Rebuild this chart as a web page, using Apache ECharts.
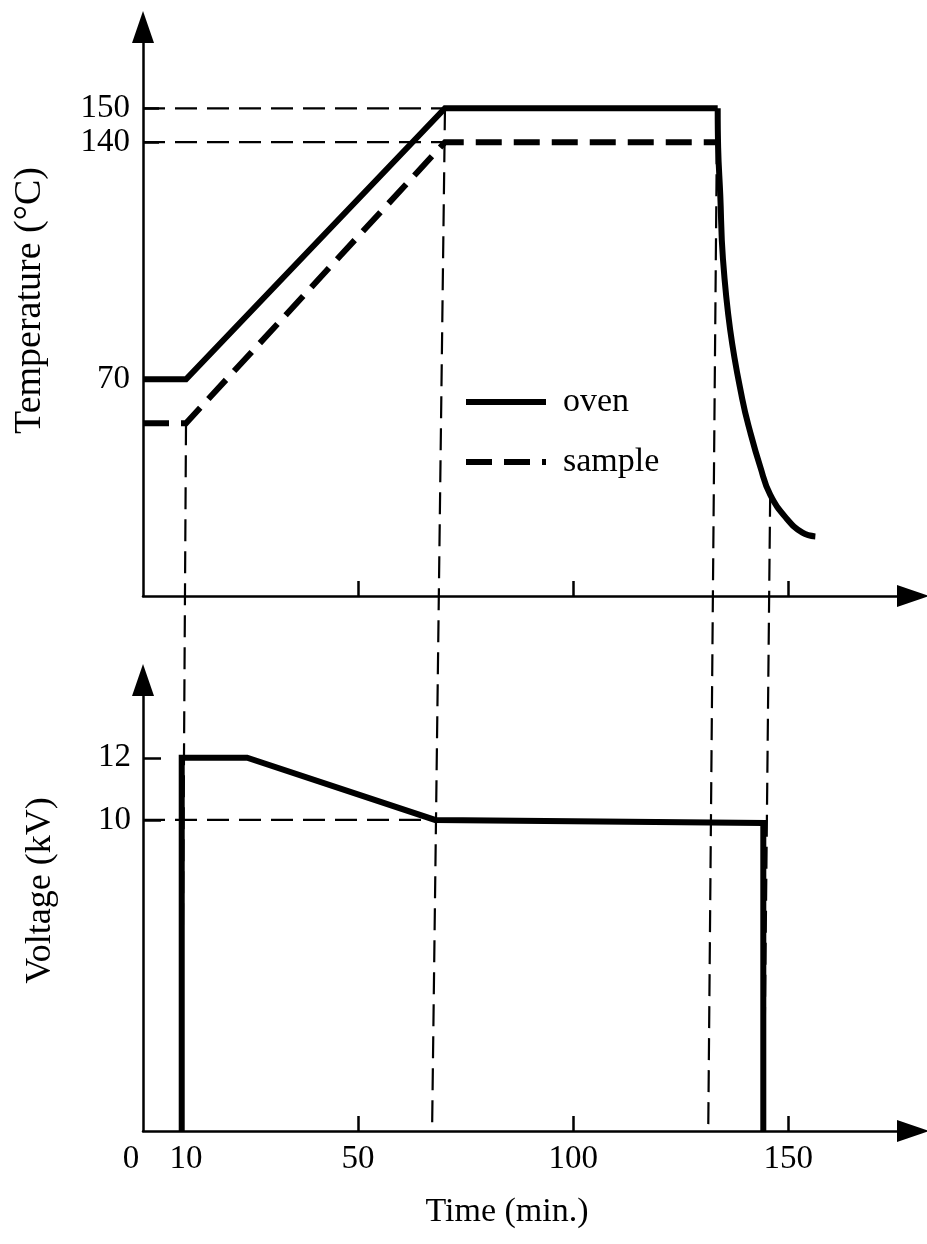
<!DOCTYPE html>
<html>
<head>
<meta charset="utf-8">
<script src="https://cdn.jsdelivr.net/npm/echarts@6/dist/echarts.min.js"></script>
<style>
  html, body { margin: 0; padding: 0; background: #fff; }
  #chart { width: 927px; height: 1244px; }
</style>
</head>
<body>
<div id="chart"></div>
<script>
const FONT = '"Liberation Serif", "Times New Roman", serif';

// Time axis (min.)
const timeLabels = [0, 10, 50, 100, 150];
const timeTicks = [50, 100, 150];
// Temperature axis (°C)
const tempTicks = [70, 140, 150];
// Voltage axis (kV)
const voltTicks = [10, 12];

// Oven temperature [min, °C]: heating ramp and plateau
const ovenHeating = [[0, 70], [10, 70], [70.2, 150], [133.6, 150]];
// Oven temperature after switch-off
const ovenCooling = [[133.6, 150], [133.7, 138.5], [134.2, 124.3], [134.8, 105.9], [136.5, 84.6],
  [139.3, 64.2], [141.2, 54.2], [143.5, 44.1], [145.8, 35.9], [149.6, 28.9], [153.3, 24.7], [156.3, 23.6]];
// Sample temperature [min, °C]
const sampleTemp = [[0, 57], [10, 57], [70.2, 140], [133.6, 140]];
// Applied voltage [min, kV]
const voltage = [[9, 0], [9, 12], [24.2, 12], [67.9, 10], [144.2, 9.9], [144.2, 0]];

// Guide lines: event on the temperature curve [min, °C] and matching time on the voltage plot
const guideTop = [[10, 57], [70.2, 150], [133.4, 140], [145.8, 35.9]];
const guideBottomTime = [9, 67.2, 131.4, 144.3];
// Level markers: [value, time where the level is reached]
const tempLevels = [[150, 70.2], [140, 70.2]];
const voltLevels = [[10, 67.9]];

// Layout
const H = 1244;
const LEFT = 143, RIGHT = 14;
const TOP1 = 27, AXIS1 = 596;     // temperature panel
const TOP2 = 680, AXIS2 = 1131;   // voltage panel
const X_MIN = 0, X_MAX = 179;
const T_MIN = 6, T_MAX = 174;
const V_MIN = 0, V_MAX = 14.5;
// overlay panel spanning both plots, sharing the temperature scale
const OVERLAY_MIN = T_MAX - (T_MAX - T_MIN) * (AXIS2 - TOP1) / (AXIS1 - TOP1);

const black = '#000';
const axisLine = {
  onZero: false,
  symbol: ['none', 'triangle'],
  symbolSize: [22, 32],
  lineStyle: { color: black, width: 2.5 }
};
const dataLine = { color: black, width: 6, cap: 'butt', join: 'miter' };
const guideLine = { color: black, width: 2.2, type: [22, 10] };
const labelFont = { fontFamily: FONT, fontSize: 33, color: black };

const series = [
  { name: 'oven', type: 'line', xAxisIndex: 0, yAxisIndex: 0, data: ovenHeating,
    symbol: 'none', lineStyle: dataLine, z: 5, silent: true },
  { name: 'oven', type: 'line', xAxisIndex: 0, yAxisIndex: 0, data: ovenCooling,
    symbol: 'none', smooth: 0.45, lineStyle: Object.assign({}, dataLine, { join: 'round' }), z: 5, silent: true },
  { name: 'sample', type: 'line', xAxisIndex: 0, yAxisIndex: 0, data: sampleTemp,
    symbol: 'none', lineStyle: Object.assign({}, dataLine, { type: [26, 12] }), z: 5, silent: true },
  { name: 'voltage', type: 'line', xAxisIndex: 1, yAxisIndex: 1, data: voltage,
    symbol: 'none', lineStyle: dataLine, z: 5, silent: true }
];
tempLevels.forEach(([v, t]) => series.push({
  type: 'line', xAxisIndex: 0, yAxisIndex: 0, data: [[X_MIN, v], [t, v]],
  symbol: 'none', lineStyle: guideLine, z: 3, silent: true
}));
voltLevels.forEach(([v, t]) => series.push({
  type: 'line', xAxisIndex: 1, yAxisIndex: 1, data: [[X_MIN, v], [t, v]],
  symbol: 'none', lineStyle: guideLine, z: 3, silent: true
}));
guideTop.forEach((p, i) => series.push({
  type: 'line', xAxisIndex: 2, yAxisIndex: 2, data: [p, [guideBottomTime[i], OVERLAY_MIN]],
  symbol: 'none', lineStyle: guideLine, z: 3, silent: true
}));

const chart = echarts.init(document.getElementById('chart'), null, { renderer: 'canvas' });
chart.setOption({
  backgroundColor: '#fff',
  animation: false,
  grid: [
    { left: LEFT, right: RIGHT, top: TOP1, bottom: H - AXIS1 },
    { left: LEFT, right: RIGHT, top: TOP2, bottom: H - AXIS2 },
    { left: LEFT, right: RIGHT, top: TOP1, bottom: H - AXIS2 }
  ],
  xAxis: [
    { gridIndex: 0, type: 'value', min: X_MIN, max: X_MAX,
      axisLine: axisLine,
      axisTick: { show: true, inside: true, length: 15, customValues: timeTicks,
        lineStyle: { color: black, width: 2.5 } },
      axisLabel: { show: false }, splitLine: { show: false } },
    { gridIndex: 1, type: 'value', min: X_MIN, max: X_MAX,
      axisLine: axisLine,
      axisTick: { show: true, inside: true, length: 15, customValues: timeTicks,
        lineStyle: { color: black, width: 2.5 } },
      axisLabel: Object.assign({}, labelFont, {
        customValues: timeLabels, margin: 12,
        formatter: v => v === 0 ? '{z|0}' : String(v),
        rich: { z: Object.assign({}, labelFont, { padding: [0, 24, 0, 0] }) }
      }),
      splitLine: { show: false },
      name: 'Time (min.)', nameLocation: 'middle', nameGap: 64,
      nameTextStyle: { fontFamily: FONT, fontSize: 34, color: black, padding: [0, 42, 0, 0] } },
    { gridIndex: 2, type: 'value', min: X_MIN, max: X_MAX, show: false }
  ],
  yAxis: [
    { gridIndex: 0, type: 'value', min: T_MIN, max: T_MAX,
      axisLine: axisLine,
      axisTick: { show: true, inside: true, length: 16, customValues: tempTicks,
        lineStyle: { color: black, width: 2.5 } },
      axisLabel: Object.assign({}, labelFont, { customValues: tempTicks, margin: 13 }),
      splitLine: { show: false },
      name: 'Temperature (°C)', nameLocation: 'middle', nameGap: 94,
      nameTextStyle: { fontFamily: FONT, fontSize: 38, color: black, padding: [0, 0, 0, 22] } },
    { gridIndex: 1, type: 'value', min: V_MIN, max: V_MAX,
      axisLine: axisLine,
      axisTick: { show: true, inside: true, length: 18, customValues: voltTicks,
        lineStyle: { color: black, width: 2.5 } },
      axisLabel: Object.assign({}, labelFont, { customValues: voltTicks, margin: 12 }),
      splitLine: { show: false },
      name: 'Voltage (kV)', nameLocation: 'middle', nameGap: 84,
      nameTextStyle: { fontFamily: FONT, fontSize: 36, color: black, padding: [0, 0, 0, 30] } },
    { gridIndex: 2, type: 'value', min: OVERLAY_MIN, max: T_MAX, show: false }
  ],
  legend: {
    data: ['oven', 'sample'],
    orient: 'vertical',
    left: 458, top: 380,
    itemWidth: 80, itemHeight: 20, itemGap: 26,
    selectedMode: false,
    itemStyle: { color: 'rgba(0,0,0,0)', borderColor: 'rgba(0,0,0,0)', borderWidth: 0 },
    lineStyle: { width: 6 },
    textStyle: { fontFamily: FONT, fontSize: 34, color: black, lineHeight: 34, padding: [0, 0, 0, 12] }
  },
  series: series
});
</script>
</body>
</html>
